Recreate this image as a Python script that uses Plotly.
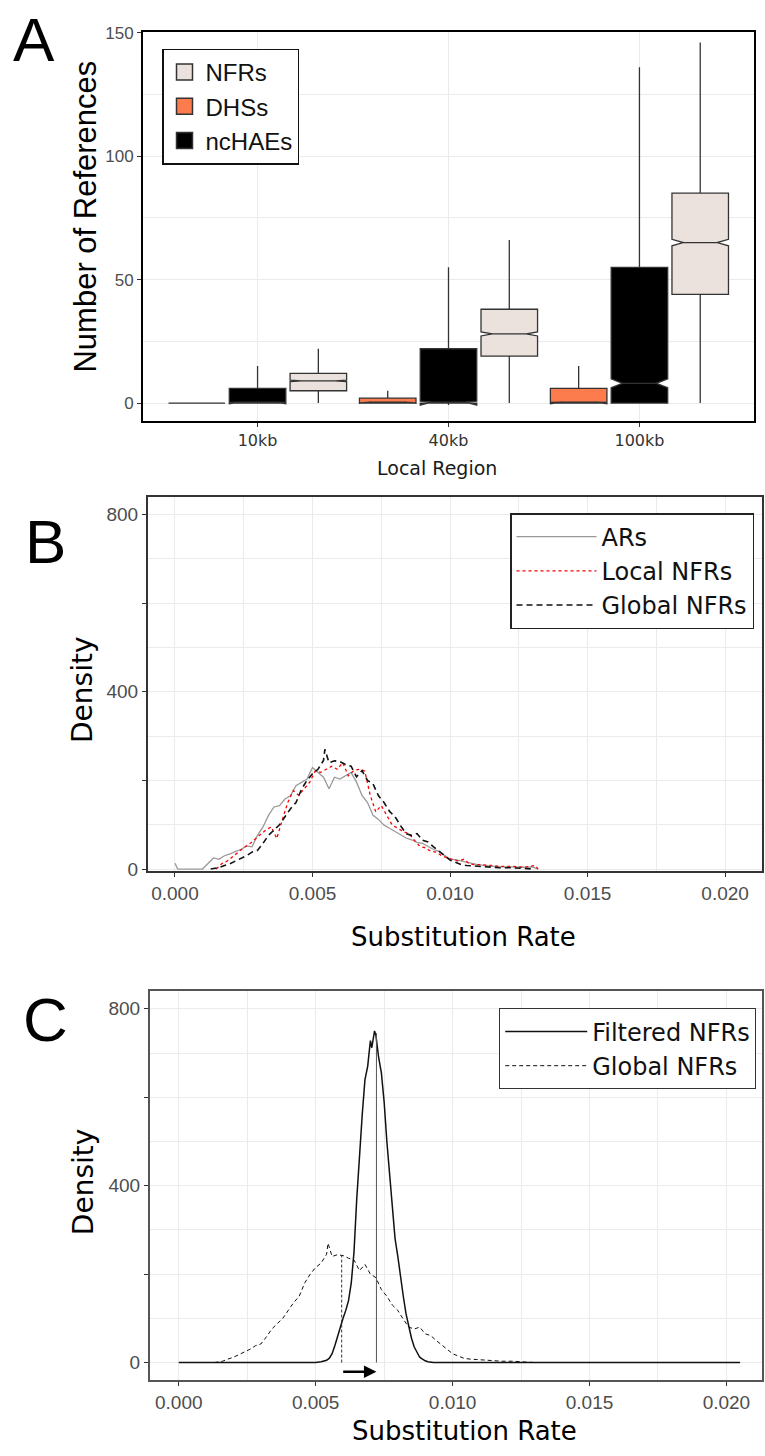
import plotly.graph_objects as go

W, H = 765, 1456

# ---------------- Panel A: boxplot summary statistics ----------------
regions = ["10kb", "40kb", "100kb"]

dhs_q1 = [0, 0, 0]
dhs_med = [0, 0, 0]
dhs_q3 = [0, 2, 6]
dhs_lo = [0, 0, 0]
dhs_hi = [0, 5, 15]
dhs_notch = [0.0, 0.1, 0.3]

nchae_q1 = [0, 0, 0]
nchae_med = [0, 0, 8]
nchae_q3 = [6, 22, 55]
nchae_lo = [0, 0, 0]
nchae_hi = [15, 55, 136]
nchae_notch = [0.3, 0.8, 1.8]

nfr_q1 = [5, 19, 44]
nfr_med = [9, 28, 65]
nfr_q3 = [12, 38, 85]
nfr_lo = [0, 0, 0]
nfr_hi = [22, 66, 146]
nfr_notch = [0.3, 0.8, 1.3]

# ---------------- Panel B / C: substitution-rate densities ----------------
ars_rate = [0.0000, 0.00005, 0.0001, 0.0010, 0.0012, 0.0014, 0.0016, 0.0018, 0.0020,
            0.0022, 0.0024, 0.0026, 0.0028, 0.0030, 0.0032, 0.0034, 0.0036, 0.0038,
            0.0040, 0.0042, 0.0044, 0.0046, 0.0048, 0.0050, 0.0052, 0.0054, 0.0056,
            0.0058, 0.0060, 0.0062, 0.0064, 0.0066, 0.0068, 0.0070, 0.0072, 0.0074,
            0.0076, 0.0078, 0.0080, 0.0082, 0.0084, 0.0086, 0.0088, 0.0090, 0.0092,
            0.0094, 0.0096, 0.0098, 0.0100, 0.0102, 0.0104, 0.0106, 0.0108, 0.0110,
            0.0114, 0.0118, 0.0122, 0.0126, 0.0130, 0.0132]
ars_density = [13, 5, 0, 0, 12, 25, 22, 30, 34,
               40, 44, 52, 50, 76, 95, 121, 140, 143,
               158, 165, 188, 195, 203, 229, 218, 207, 181,
               207, 203, 210, 218, 196, 166, 150, 121, 112,
               99, 92, 84, 78, 70, 66, 60, 58, 50,
               44, 40, 32, 22, 21, 18, 15, 12, 10,
               7, 5, 5, 4, 5, 0]

local_rate = [0.0015, 0.0017, 0.0019, 0.0021, 0.0023, 0.0025, 0.0027, 0.0029, 0.0031,
              0.0033, 0.0035, 0.0037, 0.0039, 0.0041, 0.0043, 0.0045, 0.0047, 0.0049,
              0.0051, 0.0053, 0.0055, 0.0057, 0.0059, 0.0061, 0.0063, 0.0065, 0.0067,
              0.0069, 0.0071, 0.0073, 0.0075, 0.0077, 0.0079, 0.0081, 0.0083, 0.0085,
              0.0087, 0.0089, 0.0091, 0.0093, 0.0095, 0.0097, 0.0099, 0.0101, 0.0103,
              0.0105, 0.0107, 0.0109, 0.0111, 0.0115, 0.0119, 0.0123, 0.0127, 0.0131,
              0.0132]
local_density = [0, 12, 18, 28, 40, 48, 56, 66, 76,
                 88, 95, 69, 110, 150, 177, 166, 181, 196,
                 221, 218, 225, 232, 225, 240, 210, 222, 225,
                 221, 166, 129, 143, 120, 99, 92, 84, 80,
                 66, 51, 48, 40, 38, 30, 25, 22, 18,
                 22, 12, 10, 10, 8, 6, 6, 4, 8,
                 0]

global_rate = [0.0013, 0.0016, 0.0018, 0.0020, 0.0022, 0.0024, 0.0026, 0.0028, 0.0030,
               0.0032, 0.0034, 0.0036, 0.0038, 0.0040, 0.0042, 0.0044, 0.0046, 0.0048,
               0.0050, 0.0052, 0.0054, 0.00545, 0.0056, 0.0058, 0.0060, 0.0062, 0.0064,
               0.0066, 0.0068, 0.0070, 0.0072, 0.0074, 0.0076, 0.0078, 0.0080, 0.0082,
               0.0084, 0.0086, 0.0088, 0.0090, 0.0092, 0.0094, 0.0096, 0.0098, 0.0100,
               0.0102, 0.0104, 0.0106, 0.0108, 0.0110, 0.0114, 0.0118, 0.0122, 0.0126,
               0.0130]
global_density = [0, 3, 8, 12, 18, 24, 30, 38, 42,
                  58, 76, 88, 100, 118, 136, 150, 180, 200,
                  215, 225, 245, 270, 240, 244, 242, 236, 232,
                  208, 222, 200, 192, 165, 150, 130, 118, 98,
                  80, 76, 80, 65, 61, 50, 39, 30, 20,
                  15, 10, 8, 7, 6, 4, 3, 3, 1,
                  0]

filtered_rate = [0.0000, 0.0050, 0.0052, 0.0054, 0.0055, 0.0056, 0.0057, 0.0058, 0.0059,
                 0.0060, 0.0061, 0.0062, 0.0063, 0.0064, 0.0065, 0.0066, 0.0067, 0.0068,
                 0.0069, 0.00695, 0.0070, 0.00705, 0.0071, 0.00715, 0.0072, 0.0073, 0.0074,
                 0.0075, 0.0076, 0.0077, 0.0078, 0.0079, 0.0080, 0.0081, 0.0082, 0.0083,
                 0.0084, 0.0085, 0.0086, 0.0087, 0.0088, 0.0089, 0.0090, 0.0091, 0.0093,
                 0.0205]
filtered_density = [0, 0, 2, 5, 10, 20, 38, 60, 78,
                    100, 118, 140, 180, 250, 370, 470, 560, 640,
                    670, 700, 728, 712, 735, 750, 740, 690, 655,
                    590, 500, 420, 340, 280, 240, 190, 150, 110,
                    80, 55, 35, 25, 12, 8, 4, 2, 0,
                    0]

# shift of the mean substitution rate (Global -> Filtered)
mean_rate = [0.00595, 0.00722]
mean_height = [243, 745]
shift_level = -21

# ---------------- colours / fonts ----------------
C_NFR, C_DHS, C_NCHAE = "#EBE1DD", "#FC7C4D", "#000000"
EDGE = "#333333"
GRID = "#EBEBEB"
ARIAL = "Liberation Sans, Arial, sans-serif"
DEJA = "DejaVu Sans, sans-serif"

fig = go.Figure()

box_common = dict(notched=True, notchwidth=0.2, whiskerwidth=0, boxpoints=False,
                  showlegend=False, xaxis="x", yaxis="y")
fig.add_trace(go.Box(x=regions, q1=dhs_q1, median=dhs_med, q3=dhs_q3,
                     lowerfence=dhs_lo, upperfence=dhs_hi, notchspan=dhs_notch,
                     name="DHSs", fillcolor=C_DHS, line=dict(color=EDGE, width=1.3),
                     **box_common))
fig.add_trace(go.Box(x=regions, q1=nchae_q1, median=nchae_med, q3=nchae_q3,
                     lowerfence=nchae_lo, upperfence=nchae_hi, notchspan=nchae_notch,
                     name="ncHAEs", fillcolor=C_NCHAE, line=dict(color=EDGE, width=1.3),
                     **box_common))
fig.add_trace(go.Box(x=regions, q1=nfr_q1, median=nfr_med, q3=nfr_q3,
                     lowerfence=nfr_lo, upperfence=nfr_hi, notchspan=nfr_notch,
                     name="NFRs", fillcolor=C_NFR, line=dict(color=EDGE, width=1.3),
                     **box_common))

# legend keys for panel A
for nm, col in [("NFRs", C_NFR), ("DHSs", C_DHS), ("ncHAEs", C_NCHAE)]:
    fig.add_trace(go.Scatter(x=[None], y=[None], mode="markers", name=nm,
                             marker=dict(symbol="square", size=16, color=col,
                                         line=dict(color=EDGE, width=1.5)),
                             xaxis="x", yaxis="y", legend="legend"))

# Panel B
fig.add_trace(go.Scatter(x=ars_rate, y=ars_density, mode="lines", name="ARs",
                         line=dict(color="#999999", width=1.3),
                         xaxis="x2", yaxis="y2", legend="legend2"))
fig.add_trace(go.Scatter(x=local_rate, y=local_density, mode="lines", name="Local NFRs",
                         line=dict(color="#FF0000", width=1.3, dash="dot"),
                         xaxis="x2", yaxis="y2", legend="legend2"))
fig.add_trace(go.Scatter(x=global_rate, y=global_density, mode="lines", name="Global NFRs",
                         line=dict(color="#111111", width=1.6, dash="6px,4px"),
                         xaxis="x2", yaxis="y2", legend="legend2"))

# Panel C
fig.add_trace(go.Scatter(x=filtered_rate, y=filtered_density, mode="lines", name="Filtered NFRs",
                         line=dict(color="#111111", width=1.5),
                         xaxis="x3", yaxis="y3", legend="legend3"))
fig.add_trace(go.Scatter(x=global_rate, y=global_density, mode="lines", name="Global NFRs",
                         line=dict(color="#111111", width=1, dash="4px,3px"),
                         xaxis="x3", yaxis="y3", legend="legend3"))
fig.add_trace(go.Scatter(x=[mean_rate[0], mean_rate[0]], y=[0, mean_height[0]], mode="lines",
                         line=dict(color="#333333", width=1, dash="3px,2px"), showlegend=False,
                         xaxis="x3", yaxis="y3"))
fig.add_trace(go.Scatter(x=[mean_rate[1], mean_rate[1]], y=[0, mean_height[1]], mode="lines",
                         line=dict(color="#555555", width=1), showlegend=False,
                         xaxis="x3", yaxis="y3"))

def px_x(a, b):
    return [a / W, b / W]

def px_y(top, bottom):
    return [1 - bottom / H, 1 - top / H]

axis_common = dict(showline=True, mirror=True, ticks="outside", ticklen=4,
                   tickcolor="#333333", showgrid=True, gridcolor=GRID, gridwidth=1,
                   zeroline=False)
font_a = dict(family=ARIAL, size=17, color="#4D4D4D")
font_bc = dict(family=ARIAL, size=19, color="#4D4D4D")

rate_ticks = [0, 0.005, 0.010, 0.015, 0.020]
rate_text = ["0.000", "0.005", "0.010", "0.015", "0.020"]
dens_ticks = [0, 200, 400, 600, 800]
dens_text = ["0", "", "400", "", "800"]

fig.update_layout(
    width=W, height=H, margin=dict(l=0, r=0, t=0, b=0),
    paper_bgcolor="white", plot_bgcolor="white",
    boxmode="group", boxgap=0.045, boxgroupgap=0.07,
    xaxis=dict(domain=px_x(143, 754), anchor="y", type="category",
               categoryorder="array", categoryarray=regions, range=[-0.6, 2.6],
               linecolor="#000000", linewidth=2,
               tickfont=dict(family=DEJA, size=16, color="#333333"), **axis_common),
    yaxis=dict(domain=px_y(24, 418), anchor="x", range=[-7.3, 150.4],
               tickvals=[0, 50, 100, 150], linecolor="#000000", linewidth=2,
               tickfont=font_a,
               minor=dict(dtick=25, tick0=0, showgrid=True, gridcolor=GRID), **axis_common),
    xaxis2=dict(domain=px_x(148, 762), anchor="y2", range=[-0.00098, 0.02134],
                tickvals=rate_ticks, ticktext=rate_text, linecolor="#333333", linewidth=2,
                tickfont=font_bc,
                minor=dict(dtick=0.0025, tick0=0, showgrid=True, gridcolor=GRID), **axis_common),
    yaxis2=dict(domain=px_y(495, 873), anchor="x2", range=[-4, 838.6],
                tickvals=dens_ticks, ticktext=dens_text, linecolor="#333333", linewidth=2,
                tickfont=font_bc,
                minor=dict(dtick=100, tick0=0, showgrid=True, gridcolor=GRID), **axis_common),
    xaxis3=dict(domain=px_x(150, 762), anchor="y3", range=[-0.00105, 0.0213],
                tickvals=rate_ticks, ticktext=rate_text, linecolor="#555555", linewidth=2,
                tickfont=font_bc,
                minor=dict(dtick=0.0025, tick0=0, showgrid=True, gridcolor=GRID), **axis_common),
    yaxis3=dict(domain=px_y(995, 1388), anchor="x3", range=[-39, 839.5],
                tickvals=dens_ticks, ticktext=dens_text, linecolor="#555555", linewidth=2,
                tickfont=font_bc,
                minor=dict(dtick=100, tick0=0, showgrid=True, gridcolor=GRID), **axis_common),
    legend=dict(x=162 / W, y=1 - 41 / H, xanchor="left", yanchor="top",
                bgcolor="white", bordercolor="#111111", borderwidth=1.5,
                font=dict(family=ARIAL, size=24, color="#111111"), traceorder="normal",
                itemwidth=32),
    legend2=dict(x=754 / W, y=1 - 511 / H, xanchor="right", yanchor="top",
                 bgcolor="white", bordercolor="#222222", borderwidth=1.5,
                 font=dict(family=DEJA, size=24, color="#111111"), itemwidth=80),
    legend3=dict(x=756 / W, y=1 - 1012 / H, xanchor="right", yanchor="top",
                 bgcolor="white", bordercolor="#333333", borderwidth=1.2,
                 font=dict(family=DEJA, size=24, color="#111111"), itemwidth=82),
)

ann = [
    dict(text="A", x=34 / W, y=1 - 32 / H, font=dict(family=ARIAL, size=62, color="black")),
    dict(text="B", x=45 / W, y=1 - 540 / H, font=dict(family=ARIAL, size=62, color="black")),
    dict(text="C", x=45 / W, y=1 - 1023 / H, font=dict(family=ARIAL, size=62, color="black")),
    dict(text="Number of References", x=86 / W, y=1 - 211 / H, textangle=-90,
         font=dict(family=ARIAL, size=31, color="black")),
    dict(text="Local Region", x=437 / W, y=1 - 465 / H,
         font=dict(family=DEJA, size=19, color="#1a1a1a")),
    dict(text="Density", x=83 / W, y=1 - 690 / H, textangle=-90,
         font=dict(family=DEJA, size=28, color="black")),
    dict(text="Substitution Rate", x=464 / W, y=1 - 940 / H,
         font=dict(family=DEJA, size=26, color="black")),
    dict(text="Density", x=83 / W, y=1 - 1188 / H, textangle=-90,
         font=dict(family=DEJA, size=28, color="black")),
    dict(text="Substitution Rate", x=465 / W, y=1 - 1440 / H,
         font=dict(family=DEJA, size=26, color="black")),
]
for a in ann:
    fig.add_annotation(xref="paper", yref="paper", showarrow=False,
                       xanchor="center", yanchor="middle", **a)

# arrow showing the shift of the mean
fig.add_annotation(x=mean_rate[1], y=shift_level, ax=mean_rate[0], ay=shift_level,
                   xref="x3", yref="y3", axref="x3", ayref="y3", text="",
                   showarrow=True, arrowhead=2, arrowsize=1, arrowwidth=2.5,
                   arrowcolor="black")

fig.write_html("out.html", config={"displayModeBar": False},
               post_script="document.body.style.margin='0';document.body.style.overflow='hidden';")
